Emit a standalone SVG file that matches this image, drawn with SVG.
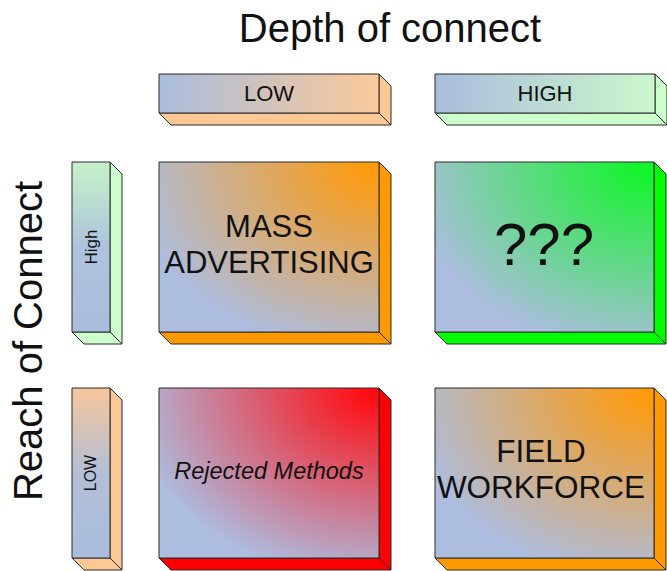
<svg xmlns="http://www.w3.org/2000/svg" width="667" height="571" viewBox="0 0 667 571">
<defs>
<linearGradient id="gLowH" x1="0" y1="0" x2="1" y2="0"><stop offset="0" stop-color="#a9bddc"/><stop offset="1" stop-color="#fbc99a"/></linearGradient>
<linearGradient id="gHighH" x1="0" y1="0" x2="1" y2="0"><stop offset="0" stop-color="#a9bddc"/><stop offset="1" stop-color="#ccf7cc"/></linearGradient>
<linearGradient id="gHighV" x1="0" y1="0" x2="0" y2="1"><stop offset="0" stop-color="#c6f2c8"/><stop offset="0.5" stop-color="#aec3dc"/><stop offset="1" stop-color="#a9bddc"/></linearGradient>
<linearGradient id="gLowV" x1="0" y1="0" x2="0" y2="1"><stop offset="0" stop-color="#f6c69c"/><stop offset="0.5" stop-color="#b3bfd6"/><stop offset="1" stop-color="#a9bddc"/></linearGradient>
<radialGradient id="gOrange" cx="1" cy="0" r="1.3"><stop offset="0.05" stop-color="#ff9a0c"/><stop offset="0.88" stop-color="#adbde0"/></radialGradient>
<radialGradient id="gGreen" cx="1" cy="0" r="1.3"><stop offset="0.05" stop-color="#12f52a"/><stop offset="0.88" stop-color="#adbde0"/></radialGradient>
<radialGradient id="gRed" cx="1" cy="0" r="1.3"><stop offset="0.05" stop-color="#ff0d12"/><stop offset="0.88" stop-color="#adbde0"/></radialGradient>
</defs>
<style>
.edge{stroke:#2b2b2b;stroke-width:1;stroke-linejoin:round}
.t{font-family:"Liberation Sans",Arial,sans-serif;fill:#111}
</style>
<rect width="667" height="571" fill="#fff"/>
<text class="t" x="390" y="42" font-size="40" text-anchor="middle">Depth of connect</text>
<text class="t" transform="translate(42,341) rotate(-90)" x="0" y="0" font-size="40" text-anchor="middle">Reach of Connect</text>

<g id="col-low">
<polygon class="edge" fill="#fcc996" points="379,74 391,86 391,125 379,113"/>
<polygon class="edge" fill="#fcc996" points="159,113 379,113 391,125 171,125"/>
<rect class="edge" x="159" y="74" width="220" height="39" fill="url(#gLowH)"/>
<text class="t" x="269" y="101" font-size="22" text-anchor="middle">LOW</text>
</g>
<g id="col-high">
<polygon class="edge" fill="#ccffcc" points="655,74 667,86 667,125 655,113"/>
<polygon class="edge" fill="#ccffcc" points="435,113 655,113 667,125 447,125"/>
<rect class="edge" x="435" y="74" width="220" height="39" fill="url(#gHighH)"/>
<text class="t" x="545" y="101" font-size="22" text-anchor="middle">HIGH</text>
</g>

<g id="row-high">
<polygon class="edge" fill="#ccffcc" points="110,162 122,174 122,344 110,332"/>
<polygon class="edge" fill="#ccffcc" points="72,332 110,332 122,344 84,344"/>
<rect class="edge" x="72" y="162" width="38" height="170" fill="url(#gHighV)"/>
<text class="t" transform="translate(97,247) rotate(-90)" font-size="17" text-anchor="middle">High</text>
</g>
<g id="row-low">
<polygon class="edge" fill="#fcc996" points="110,388 122,400 122,570 110,558"/>
<polygon class="edge" fill="#fcc996" points="72,558 110,558 122,570 84,570"/>
<rect class="edge" x="72" y="388" width="38" height="170" fill="url(#gLowV)"/>
<text class="t" transform="translate(96,473) rotate(-90)" font-size="16" text-anchor="middle">LOW</text>
</g>

<g id="mass-advertising">
<polygon class="edge" fill="#ff9900" points="379,162 391,174 391,344 379,332"/>
<polygon class="edge" fill="#ff9900" points="159,332 379,332 391,344 171,344"/>
<rect class="edge" x="159" y="162" width="220" height="170" fill="url(#gOrange)"/>
<text class="t" x="269" y="237" font-size="31" text-anchor="middle">MASS</text>
<text class="t" x="269" y="273" font-size="31" text-anchor="middle">ADVERTISING</text>
</g>
<g id="unknown">
<polygon class="edge" fill="#00ff00" points="654,162 666,174 666,344 654,332"/>
<polygon class="edge" fill="#00ff00" points="435,332 654,332 666,344 447,344"/>
<rect class="edge" x="435" y="162" width="219" height="170" fill="url(#gGreen)"/>
<text class="t" x="544" y="265" font-size="60" text-anchor="middle">???</text>
</g>
<g id="rejected-methods">
<polygon class="edge" fill="#ff0000" points="379,388 391,400 391,570 379,558"/>
<polygon class="edge" fill="#ff0000" points="159,558 379,558 391,570 171,570"/>
<rect class="edge" x="159" y="388" width="220" height="170" fill="url(#gRed)"/>
<text class="t" x="269" y="479" font-size="23.5" font-style="italic" text-anchor="middle">Rejected Methods</text>
</g>
<g id="field-workforce">
<polygon class="edge" fill="#ff9900" points="654,388 666,400 666,570 654,558"/>
<polygon class="edge" fill="#ff9900" points="435,558 654,558 666,570 447,570"/>
<rect class="edge" x="435" y="388" width="219" height="170" fill="url(#gOrange)"/>
<text class="t" x="541" y="462" font-size="31.5" text-anchor="middle">FIELD</text>
<text class="t" x="541" y="498" font-size="31.5" text-anchor="middle">WORKFORCE</text>
</g>
<g id="connectors"/>
</svg>
